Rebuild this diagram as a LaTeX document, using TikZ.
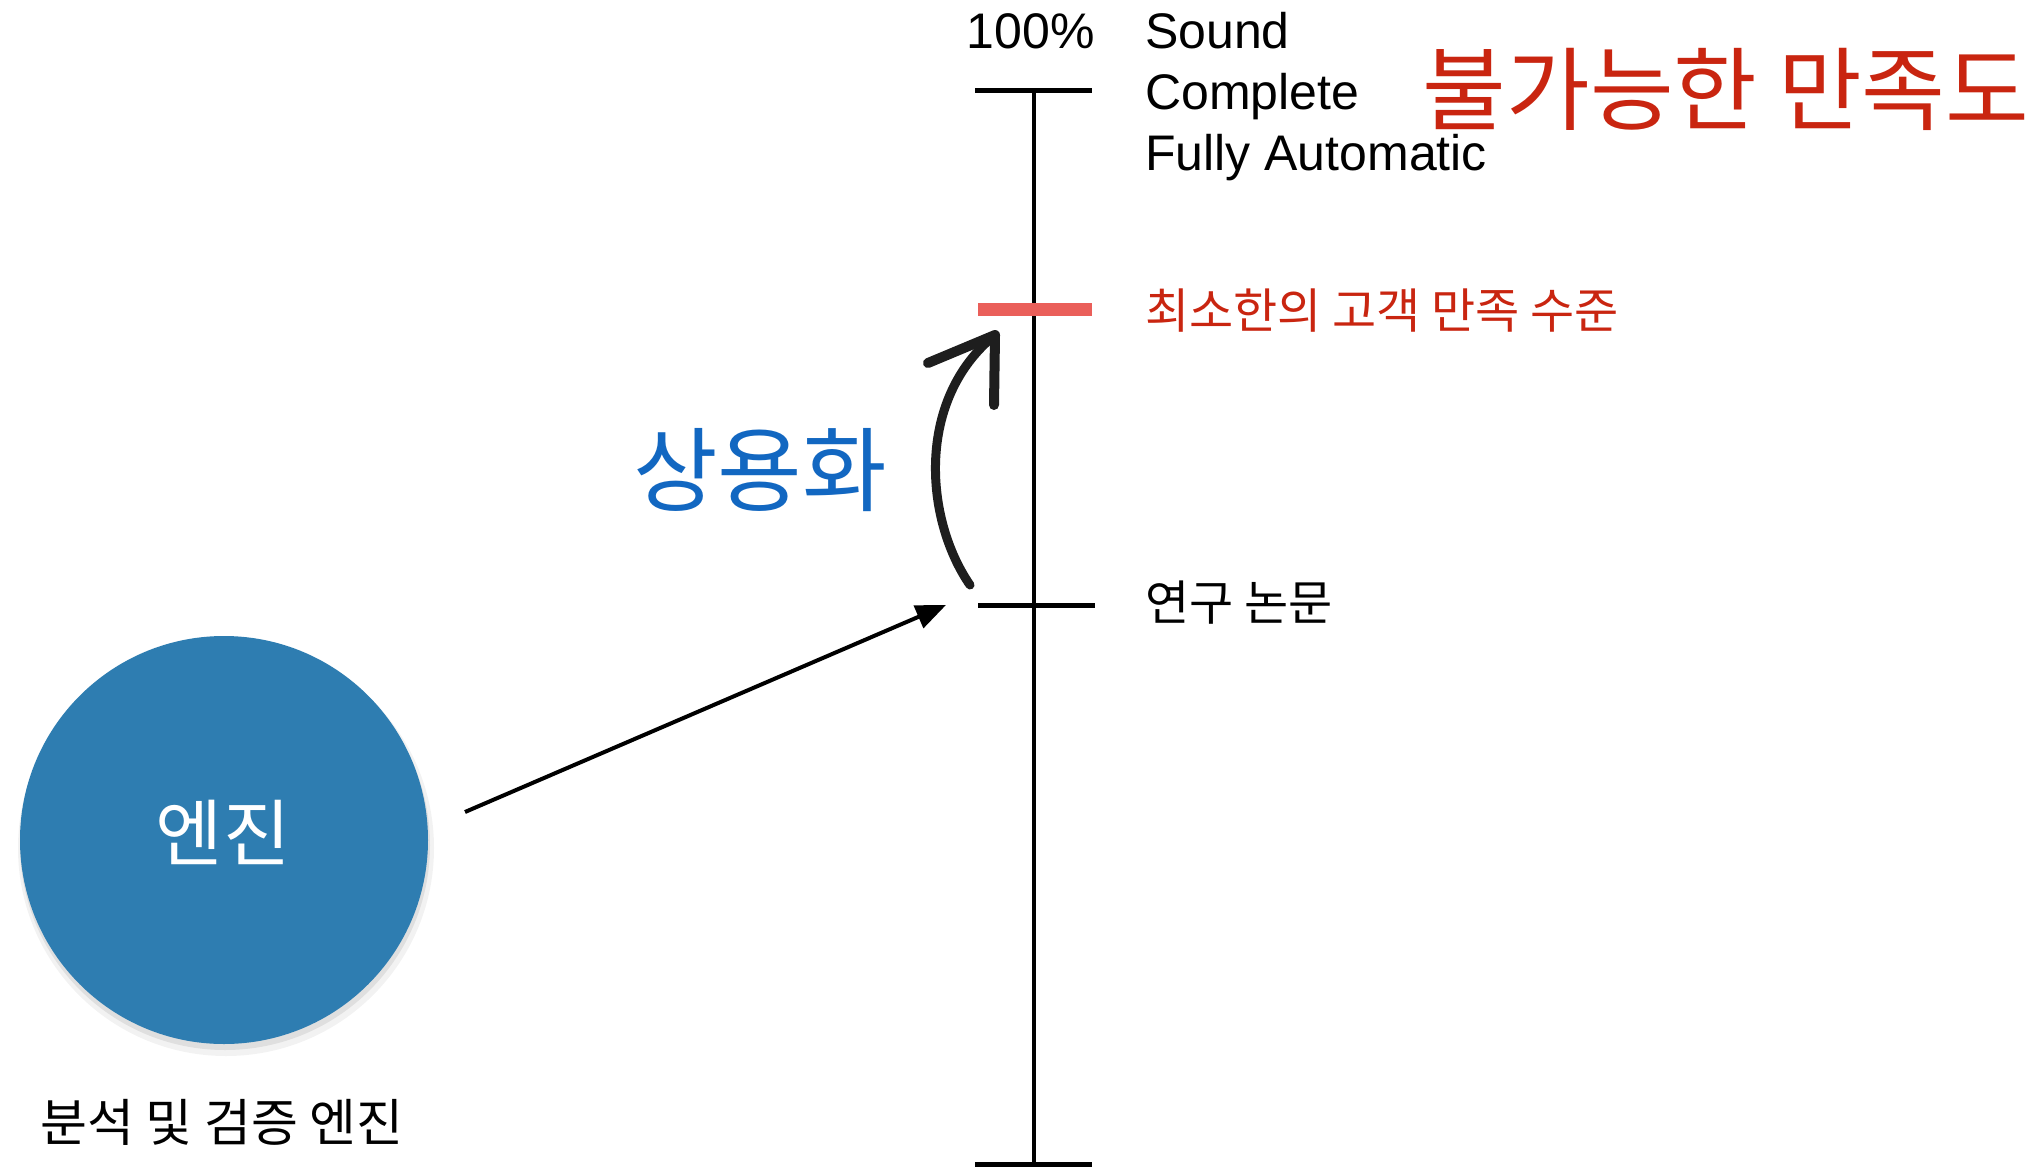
\documentclass[tikz,border=0pt]{standalone}
\usepackage{fontspec}
\setmainfont{Liberation Sans}
\newfontfamily\kr{Noto Sans CJK KR}
\usetikzlibrary{arrows.meta}
\definecolor{krred}{RGB}{201,37,16}
\definecolor{brushred}{RGB}{234,95,90}
\definecolor{krblue}{RGB}{18,103,193}
\definecolor{engblue}{RGB}{46,125,177}
\definecolor{ink}{RGB}{30,30,30}
\tikzset{
  axisline/.style={line width=4.5pt, black},
  tickline/.style={line width=5pt, black},
  brush/.style={line width=13pt, brushred},
  entxt/.style={inner sep=0pt, font=\fontsize{50}{60}\selectfont},
  krtxt/.style={inner sep=0pt, font=\kr\fontsize{48}{58}\selectfont},
  straightarrow/.style={line width=4pt, black, -{Triangle[length=30pt,width=24pt]}},
  curvearrow/.style={line width=9pt, ink, line cap=round},
  curvehead/.style={line width=10pt, ink, line cap=round, line join=round},
}
\begin{document}
\begin{tikzpicture}[x=1pt,y=-1pt]
\useasboundingbox (0,0) rectangle (2044,1169);
\fill[white] (0,0) rectangle (2044,1169);

% axis
\coordinate (axtop) at (1034,91);
\coordinate (axbot) at (1034,1164);
\draw[axisline] (axtop) -- (axbot);
\coordinate (t1l) at (975,91);   \coordinate (t1r) at (1092,91);
\coordinate (t3l) at (978,605);  \coordinate (t3r) at (1095,605);
\coordinate (t4l) at (975,1164); \coordinate (t4r) at (1092,1164);
\coordinate (t2l) at (978,309);  \coordinate (t2r) at (1092,309);
\draw[tickline] (t1l) -- (t1r);
\draw[tickline] (t3l) -- (t3r);
\draw[tickline] (t4l) -- (t4r);
\draw[brush] (t2l) -- (t2r);

% texts on the right
\node[entxt, anchor=base east] (pct) at (1095,49) {100\%};
\node[entxt, anchor=base west] (sound) at (1145,49) {Sound};
\node[entxt, anchor=base west] (complete) at (1145,110) {Complete};
\node[entxt, anchor=base west] (fully) at (1145,171) {Fully Automatic};
\node[inner sep=0pt, font=\kr\fontsize{91}{105}\selectfont, text=krred] (impossible) at (1726,89) {불가능한 만족도};
\node[krtxt, text=krred, anchor=west] (minsat) at (1145,311) {최소한의 고객 만족 수준};
\node[krtxt, anchor=west] (paper) at (1145,603) {연구 논문};
\node[inner sep=0pt, font=\kr\fontsize{92}{105}\selectfont, text=krblue] (commer) at (760,470) {상용화};

% engine circle
\fill[black, opacity=0.05] (226,848) circle (208);
\fill[black, opacity=0.08] (225,845) circle (205);
\node[circle, fill=engblue, minimum size=408pt, inner sep=0pt] (eng) at (224,840) {};
\node[inner sep=0pt, text=white, font=\kr\fontsize{73}{85}\selectfont] (engtxt) at (223,832) {엔진};
\node[inner sep=0pt, font=\kr\fontsize{51}{60}\selectfont] (englabel) at (222,1122) {분석 및 검증 엔진};

% straight arrow
\coordinate (sa1) at (465,812);
\coordinate (sa2) at (946,605);
\draw[straightarrow] (sa1) -- (sa2);

% curved arrow
\coordinate (ca1) at (970,585);
\coordinate (ca2) at (995,335);
\coordinate (hb1) at (928,363);
\coordinate (hb2) at (994,405);
\draw[curvearrow] (ca1) .. controls (925,520) and (915,400) .. (ca2);
\draw[curvehead] (hb1) -- (ca2) -- (hb2);
\end{tikzpicture}
\end{document}
